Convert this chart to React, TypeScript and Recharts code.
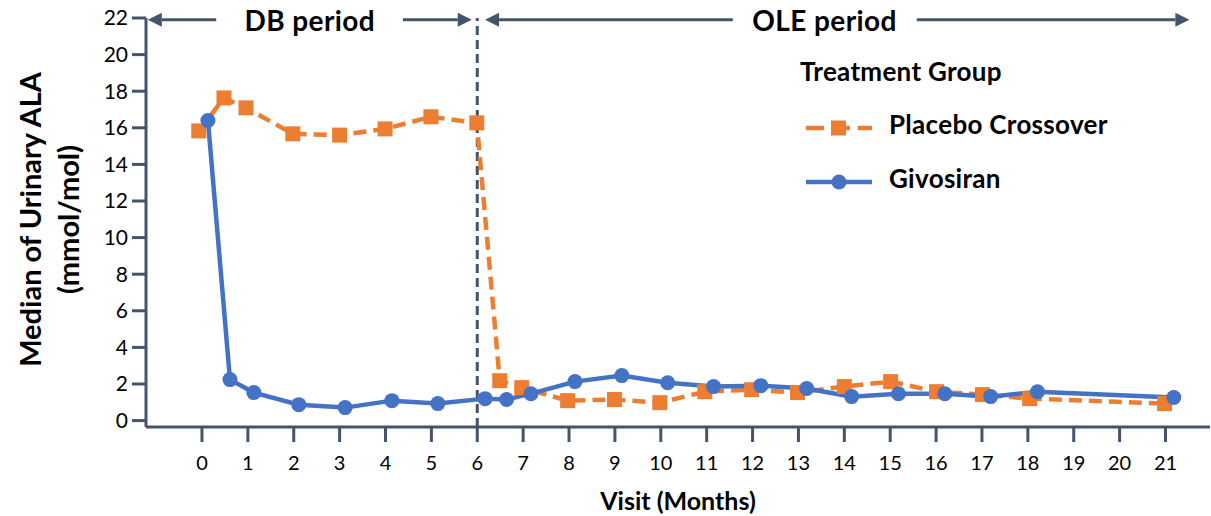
import React from "react"
import {
  LineChart,
  Line,
  XAxis,
  YAxis,
  ReferenceLine,
  ReferenceDot,
} from "recharts"

const visitTicks = [0, 1, 2, 3, 4, 5, 6, 7, 8, 9, 10, 11, 12, 13, 14, 15, 16, 17, 18, 19, 20, 21]
const alaTicks = [0, 2, 4, 6, 8, 10, 12, 14, 16, 18, 20, 22]

const givosiranVisits = [0.13, 0.61, 1.13, 2.11, 3.12, 4.14, 5.14, 6.17, 6.64, 7.17, 8.13, 9.15, 10.15, 11.15, 12.18, 13.18, 14.16, 15.18, 16.19, 17.19, 18.21, 21.18]
const givosiranValues = [16.4, 2.24, 1.53, 0.87, 0.71, 1.09, 0.93, 1.2, 1.15, 1.47, 2.13, 2.46, 2.07, 1.86, 1.91, 1.75, 1.31, 1.47, 1.47, 1.31, 1.58, 1.26]

const placeboVisits = [-0.07, 0.48, 0.96, 1.98, 3.0, 3.99, 4.99, 5.99, 6.49, 6.97, 7.97, 8.99, 9.98, 10.96, 11.98, 12.98, 14.0, 15.01, 16.01, 17.01, 18.04, 20.98]
const placeboValues = [15.83, 17.63, 17.09, 15.67, 15.6, 15.94, 16.6, 16.27, 2.18, 1.8, 1.09, 1.15, 0.98, 1.58, 1.69, 1.53, 1.86, 2.13, 1.58, 1.42, 1.2, 0.93]

const givosiranData = givosiranVisits.map((x, i) => ({ x, y: givosiranValues[i] }))
const placeboData = placeboVisits.map((x, i) => ({ x, y: placeboValues[i] }))

const AXIS = "#44546A"
const ORANGE = "#ED7D31"
const BLUE = "#4472C4"
const FONT = "Lato, 'Open Sans', sans-serif"

// line with an arrowhead at the (x2, y2) end
const Arrow = (props: any) => {
  const { x1, y1, x2, y2 } = props
  const dir = x2 > x1 ? 1 : -1
  const baseX = x2 - dir * 14
  return (
    <g>
      <line x1={x1} y1={y1} x2={baseX} y2={y2} stroke={AXIS} strokeWidth={3} />
      <polygon points={`${x2},${y2} ${baseX},${y2 - 7} ${baseX},${y2 + 7}`} fill={AXIS} />
    </g>
  )
}

const SquareDot = (props: any) => {
  const { cx, cy } = props
  if (cx == null || cy == null) return null
  return <rect x={cx - 7.5} y={cy - 7.5} width={15} height={15} fill={ORANGE} />
}

const CircleDot = (props: any) => {
  const { cx, cy } = props
  if (cx == null || cy == null) return null
  return <circle cx={cx} cy={cy} r={7.5} fill={BLUE} />
}

const YTitle = (props: any) => {
  const { viewBox } = props
  const cy = viewBox.y + viewBox.height / 2 - 3
  return (
    <g fontFamily={FONT} fontWeight="bold" fontSize={29} fill="#000">
      <text x={29} y={cy} transform={`rotate(-90, 29, ${cy})`} textAnchor="middle" dominantBaseline="central">
        Median of Urinary ALA
      </text>
      <text x={67} y={cy} transform={`rotate(-90, 67, ${cy})`} textAnchor="middle" dominantBaseline="central">
        (mmol/mol)
      </text>
    </g>
  )
}

const LegendBox = () => (
  <svg width={360} height={150} style={{ fontFamily: FONT, display: "block" }}>
    <g fontWeight="bold" fontSize={26} fill="#000" letterSpacing={0.3}>
      <text x={5} y={21} dominantBaseline="central">Treatment Group</text>
      <text x={94} y={74} dominantBaseline="central">Placebo Crossover</text>
      <text x={94} y={128} dominantBaseline="central">Givosiran</text>
    </g>
    <line x1={11} y1={78} x2={77} y2={78} stroke={ORANGE} strokeWidth={4.5} strokeDasharray="18 8" />
    <rect x={36} y={70.5} width={15} height={15} fill={ORANGE} />
    <line x1={11} y1={132} x2={77} y2={132} stroke={BLUE} strokeWidth={4.5} />
    <circle cx={44} cy={132} r={7.5} fill={BLUE} />
  </svg>
)

const periodStyle = { fontWeight: "bold", fontSize: 28, fill: "#000", fontFamily: FONT, letterSpacing: 0.4 }

export default function App() {
  return (
    <div style={{ position: "absolute", left: 0, top: 0, width: 1211, height: 516, background: "#fff" }}>
      <LineChart
        width={1211}
        height={516}
        margin={{ top: 18, right: 1, bottom: 0, left: 0 }}
      >
        <XAxis
          dataKey="x"
          type="number"
          domain={[-1.22, 21.97]}
          ticks={visitTicks}
          interval={0}
          allowDataOverflow
          stroke={AXIS}
          strokeWidth={3}
          tickSize={15}
          tickMargin={14}
          height={89}
          tick={{ fill: "#000", fontSize: 20, fontFamily: FONT }}
          label={{
            value: "Visit (Months)",
            position: "insideBottom",
            offset: 6,
            style: { fontWeight: "bold", fontSize: 25, fill: "#000", fontFamily: FONT },
          }}
        />
        <YAxis
          dataKey="y"
          type="number"
          domain={[-0.35, 22]}
          ticks={alaTicks}
          interval={0}
          allowDataOverflow
          width={146}
          stroke={AXIS}
          strokeWidth={3}
          tickSize={14}
          tickMargin={4}
          tick={{ fill: "#000", fontSize: 21, fontFamily: FONT }}
          label={<YTitle />}
        />
        <ReferenceLine x={6} stroke={AXIS} strokeWidth={3} strokeDasharray="9 5" />
        <ReferenceLine segment={[{ x: 0.31, y: 21.9 }, { x: -1.18, y: 21.9 }]} shape={Arrow} />
        <ReferenceLine segment={[{ x: 4.38, y: 21.9 }, { x: 5.88, y: 21.9 }]} shape={Arrow} />
        <ReferenceLine segment={[{ x: 11.57, y: 21.9 }, { x: 6.17, y: 21.9 }]} shape={Arrow} />
        <ReferenceLine segment={[{ x: 15.58, y: 21.9 }, { x: 21.52, y: 21.9 }]} shape={Arrow} />
        <ReferenceDot
          x={2.35}
          y={21.85}
          r={0}
          stroke="none"
          label={{ value: "DB period", position: "center", style: periodStyle }}
        />
        <ReferenceDot
          x={13.57}
          y={21.85}
          r={0}
          stroke="none"
          label={{ value: "OLE period", position: "center", style: periodStyle }}
        />
        <Line
          data={placeboData}
          dataKey="y"
          name="Placebo Crossover"
          stroke={ORANGE}
          strokeWidth={4.5}
          strokeDasharray="13 7"
          dot={<SquareDot />}
          activeDot={false}
          isAnimationActive={false}
        />
        <Line
          data={givosiranData}
          dataKey="y"
          name="Givosiran"
          stroke={BLUE}
          strokeWidth={4.5}
          dot={<CircleDot />}
          activeDot={false}
          isAnimationActive={false}
        />
      </LineChart>
      <div style={{ position: "absolute", left: 795, top: 50 }}>
        <LegendBox />
      </div>
    </div>
  )
}
